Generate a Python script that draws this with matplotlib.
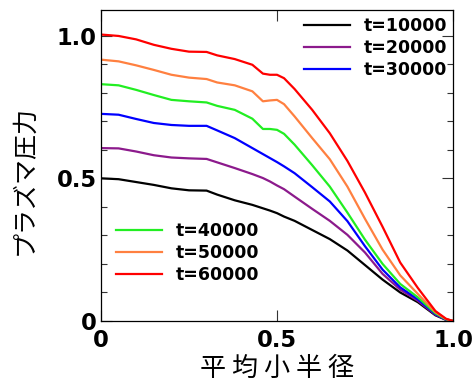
# プラズマ圧力の径方向分布（時刻ごと）

import numpy as np
import matplotlib.pyplot as plt

# 平均小半径（共通のサンプル点）
r = [0.0, 0.05, 0.10, 0.15, 0.20, 0.25, 0.30, 0.33, 0.38, 0.43, 0.46, 0.48,
     0.50, 0.52, 0.55, 0.60, 0.65, 0.70, 0.75, 0.80, 0.85, 0.90, 0.95, 0.98, 1.0]

# 各時刻の圧力
p_10000 = [0.500, 0.497, 0.487, 0.477, 0.465, 0.458, 0.457, 0.443, 0.423, 0.407, 0.395, 0.387,
           0.378, 0.366, 0.351, 0.319, 0.287, 0.247, 0.196, 0.145, 0.100, 0.066, 0.020, 0.004, 0.0]
p_20000 = [0.606, 0.605, 0.594, 0.581, 0.573, 0.570, 0.568, 0.556, 0.536, 0.515, 0.501, 0.489,
           0.475, 0.462, 0.436, 0.393, 0.351, 0.302, 0.240, 0.165, 0.110, 0.071, 0.022, 0.005, 0.0]
p_30000 = [0.726, 0.723, 0.708, 0.694, 0.687, 0.684, 0.684, 0.668, 0.641, 0.606, 0.585, 0.571,
           0.557, 0.542, 0.518, 0.469, 0.419, 0.350, 0.262, 0.180, 0.118, 0.076, 0.024, 0.005, 0.0]
p_40000 = [0.830, 0.826, 0.810, 0.792, 0.775, 0.770, 0.766, 0.754, 0.740, 0.709, 0.673, 0.673,
           0.670, 0.656, 0.618, 0.546, 0.471, 0.380, 0.285, 0.200, 0.130, 0.083, 0.027, 0.006, 0.0]
p_50000 = [0.916, 0.910, 0.896, 0.880, 0.863, 0.853, 0.848, 0.836, 0.826, 0.805, 0.770, 0.773,
           0.775, 0.760, 0.717, 0.641, 0.567, 0.471, 0.358, 0.250, 0.160, 0.095, 0.031, 0.007, 0.0]
p_60000 = [1.004, 0.999, 0.987, 0.968, 0.954, 0.944, 0.943, 0.931, 0.918, 0.898, 0.867, 0.863,
           0.863, 0.851, 0.813, 0.740, 0.658, 0.561, 0.450, 0.330, 0.205, 0.116, 0.035, 0.008, 0.0]

labels = ['t=10000', 't=20000', 't=30000', 't=40000', 't=50000', 't=60000']
colors = ['black', '#8c1a8c', '#0000ff', '#22ee22', '#ff8040', '#ff0000']
curves = [p_10000, p_20000, p_30000, p_40000, p_50000, p_60000]

fig = plt.figure(figsize=(4.73, 3.83), dpi=100)
ax = fig.add_axes([101 / 473, 62 / 383, 352 / 473, 311 / 383])

lines = []
for p, c, lab in zip(curves, colors, labels):
    ln, = ax.plot(r, p, color=c, lw=1.6, label=lab)
    lines.append(ln)

ax.set_xlim(0, 1.0)
ax.set_ylim(0, 1.09)
ax.set_xticks([0, 0.5, 1.0])
ax.set_xticklabels(['0', '0.5', '1.0'])
ax.set_yticks([0, 0.5, 1.0])
ax.set_yticklabels(['0', '0.5', '1.0'])
ax.set_yticks(np.arange(0.1, 1.05, 0.1), minor=True)

tick_font = dict(family='DejaVu Sans', weight='bold', size=16.3)
for t in ax.get_xticklabels() + ax.get_yticklabels():
    t.set_fontproperties(tick_font)
ax.tick_params(axis='both', which='major', direction='in', length=8, width=0.8,
               color='#333333', top=True, right=True)
ax.tick_params(axis='y', which='minor', direction='in', length=4.5, width=0.8,
               color='#333333', right=True)
ax.tick_params(axis='x', pad=6)
ax.tick_params(axis='y', pad=3)
for s in ax.spines.values():
    s.set_linewidth(0.9)

jp = ['Noto Sans CJK JP', 'DejaVu Sans']
ax.set_xlabel('平 均 小 半 径', family=jp, fontsize=18.8, va='center')
ax.set_ylabel('プラズマ圧力', family=jp, fontsize=18, va='center')
ax.xaxis.set_label_coords(0.5, -0.151)
ax.yaxis.set_label_coords(-0.216, 0.453)

leg_font = dict(family='DejaVu Sans', weight='bold', size=12.5)
leg1 = ax.legend(lines[:3], labels[:3], loc='upper right', bbox_to_anchor=(0.983, 0.977),
                 frameon=False, prop=leg_font, borderpad=0, borderaxespad=0,
                 handlelength=2.65, handletextpad=0.8, labelspacing=0.24)
ax.add_artist(leg1)
ax.legend(lines[3:], labels[3:], loc='upper left', bbox_to_anchor=(0.043, 0.319),
          frameon=False, prop=leg_font, borderpad=0, borderaxespad=0,
          handlelength=2.65, handletextpad=0.8, labelspacing=0.24)

fig.savefig('out.png', dpi=100)
